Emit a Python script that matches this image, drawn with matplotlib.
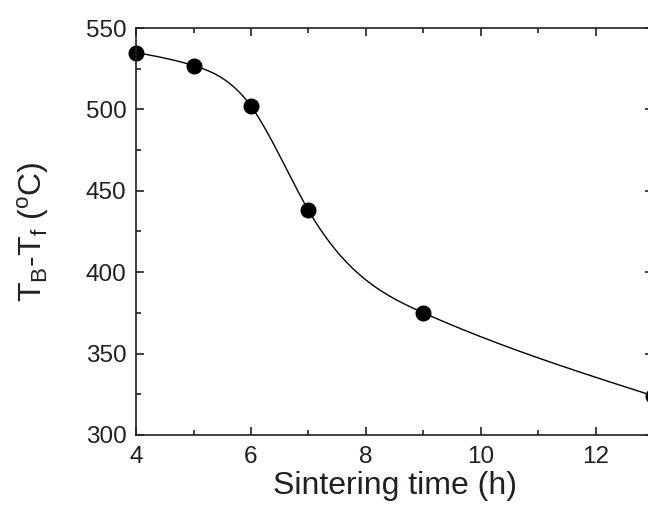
import numpy as np
import matplotlib
matplotlib.use("Agg")
import matplotlib.pyplot as plt
from matplotlib.ticker import MultipleLocator

time_h = [4, 5, 6, 7, 9, 13]
dT = [535, 527, 502, 438, 375, 324]

def natural_spline(x, y, xs):
    x = np.asarray(x, float); y = np.asarray(y, float)
    n = len(x)
    h = np.diff(x)
    A = np.zeros((n, n)); b = np.zeros(n)
    A[0, 0] = 1; A[-1, -1] = 1
    for i in range(1, n - 1):
        A[i, i - 1] = h[i - 1]; A[i, i] = 2 * (h[i - 1] + h[i]); A[i, i + 1] = h[i]
        b[i] = 3 * ((y[i + 1] - y[i]) / h[i] - (y[i] - y[i - 1]) / h[i - 1])
    c = np.linalg.solve(A, b)
    out = np.empty_like(xs)
    for k, xv in enumerate(xs):
        i = min(max(np.searchsorted(x, xv) - 1, 0), n - 2)
        dx = xv - x[i]
        bb = (y[i + 1] - y[i]) / h[i] - h[i] * (2 * c[i] + c[i + 1]) / 3
        d = (c[i + 1] - c[i]) / (3 * h[i])
        out[k] = y[i] + bb * dx + c[i] * dx**2 + d * dx**3
    return out

plt.rcParams['font.family'] = ['Liberation Sans', 'DejaVu Sans']
plt.rcParams['mathtext.fontset'] = 'custom'
plt.rcParams['mathtext.rm'] = 'Liberation Sans'

txt = '#231f20'
fig = plt.figure(figsize=(6.48, 5.11), dpi=100)
ax = fig.add_axes([0.21, 0.149, 0.798, 0.796])

xs = np.linspace(time_h[0], time_h[-1], 400)
ax.plot(xs, natural_spline(time_h, dT, xs), color='black', lw=1.0)
ax.plot(time_h, dT, 'o', color='black', ms=10.5, clip_on=False)

ax.set_xlim(4, 13)
ax.set_ylim(300, 550)
ax.xaxis.set_major_locator(MultipleLocator(2))
ax.xaxis.set_minor_locator(MultipleLocator(1))
ax.yaxis.set_major_locator(MultipleLocator(50))
ax.yaxis.set_minor_locator(MultipleLocator(25))
ax.tick_params(which='both', direction='in', top=True, right=True, labelsize=17.5,
               width=1.2, colors=txt, labelcolor=txt)
ax.tick_params(axis='y', pad=7)
ax.tick_params(axis='x', pad=8)
ax.tick_params(which='major', length=6)
ax.tick_params(which='minor', length=3.5)
for s in ax.spines.values():
    s.set_linewidth(1.2)
    s.set_color(txt)

ax.set_xlabel('Sintering time (h)', fontsize=23, labelpad=2, color=txt)
ax.set_ylabel(r'T$_\mathregular{B}$-T$_\mathregular{f}$ ($^\mathregular{o}$C)', fontsize=23, color=txt)
ax.yaxis.set_label_coords(-0.164, 0.5)

fig.savefig('out.png', dpi=100)
